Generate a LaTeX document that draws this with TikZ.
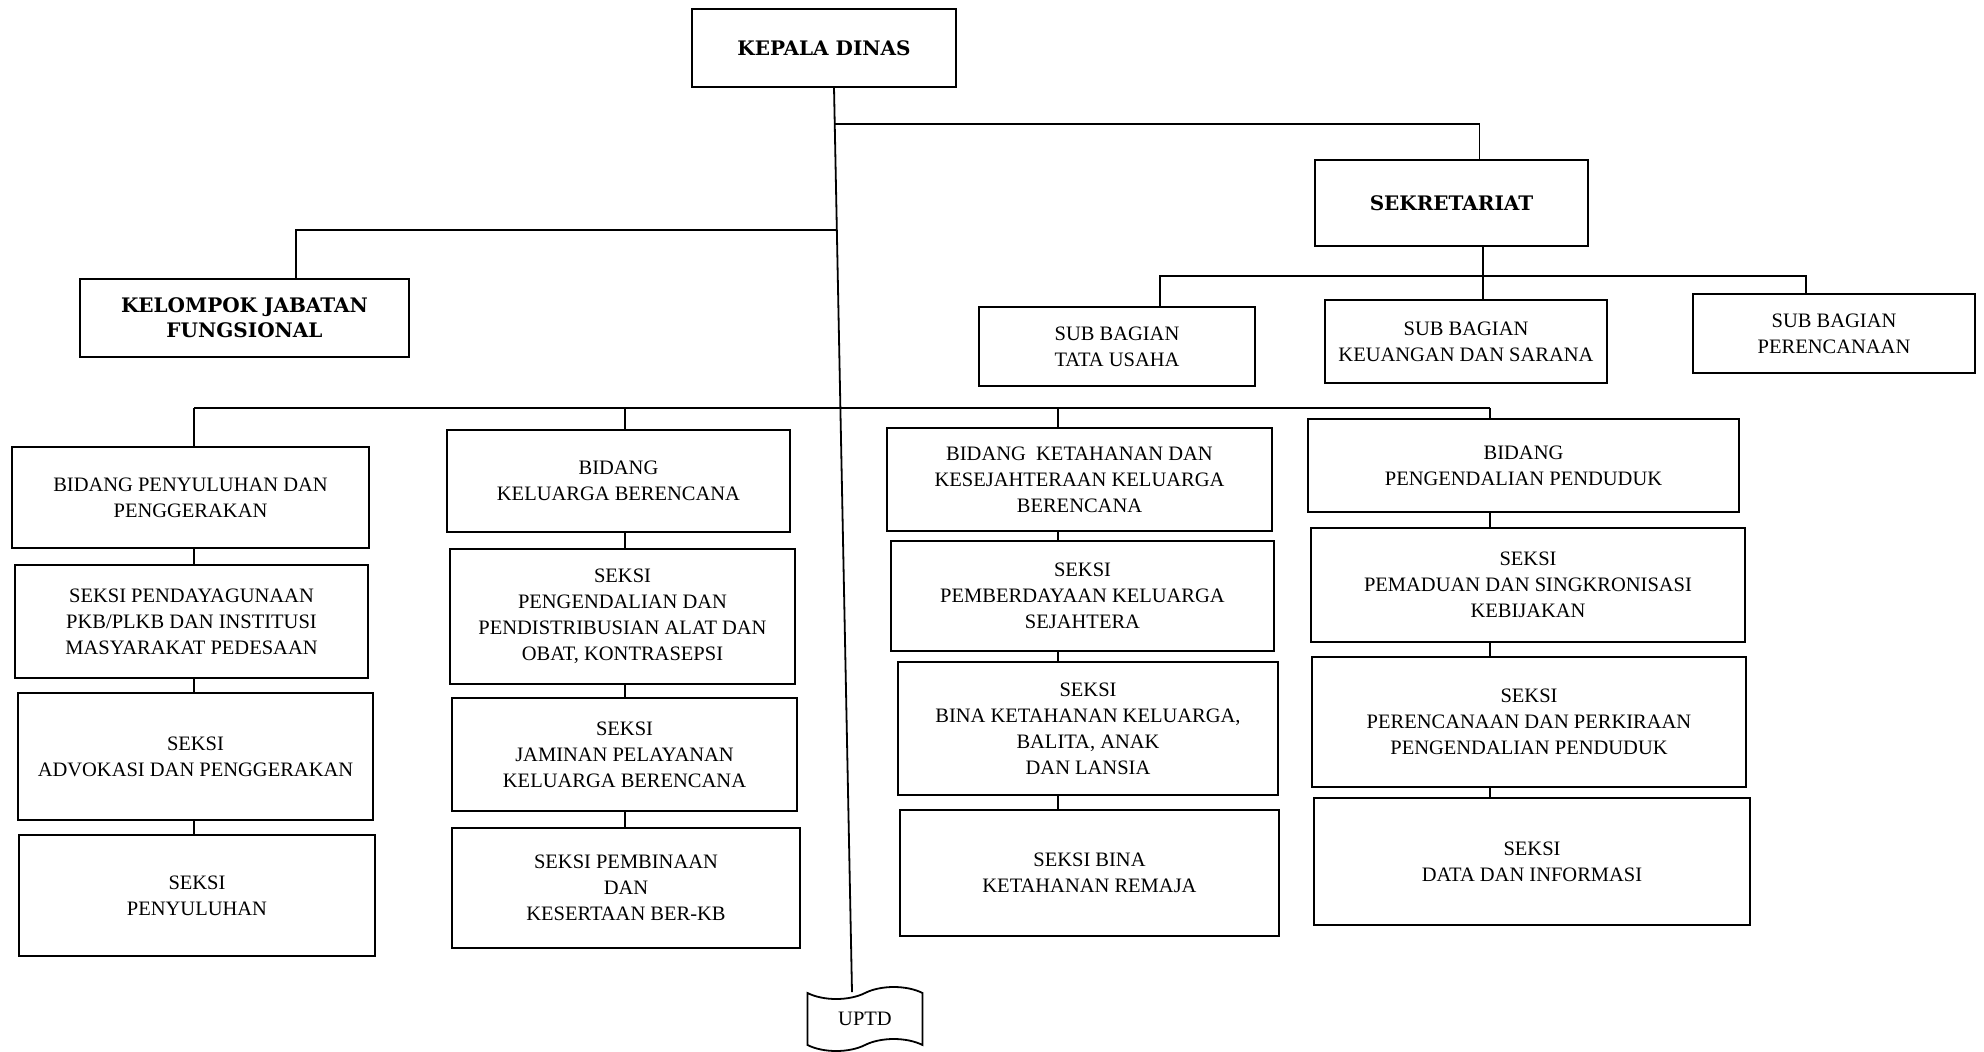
\documentclass[tikz,border=0pt]{standalone}
\usepackage{fontspec}
\setmainfont{Liberation Serif}
\newfontfamily\boldfam{DejaVu Serif}
\usetikzlibrary{shapes.symbols}
\tikzset{
  box/.style={draw, line width=1.8pt, inner sep=2pt, outer sep=0pt, align=center,
    font=\fontsize{20.5}{26}\selectfont},
  bbox/.style={box, font=\boldfam\bfseries\fontsize{20}{25}\selectfont},
  conn/.style={line width=1.8pt},
}
\newcommand{\bx}[7][box]{\node[#1, minimum width={(#4-#2)*1pt}, minimum height={(#5-#3)*1pt}] (#6) at ({(#2+#4)/2},{(#3+#5)/2}) {#7};}
\begin{document}
\begin{tikzpicture}[x=1pt,y=-1pt]
\fill[white] (0,0) rectangle (1984,1052);
\useasboundingbox (0,0) rectangle (1984,1052);

% top level
\bx[bbox]{692}{9}{956}{87}{kepala}{KEPALA DINAS}
\bx[bbox]{1315}{160}{1588}{246}{sek}{SEKRETARIAT}
\bx[bbox]{80}{279}{409}{357}{kel}{KELOMPOK JABATAN\\FUNGSIONAL}

% sub bagian
\bx{979}{307}{1255}{386}{tu}{SUB BAGIAN\\TATA USAHA}
\bx{1325}{300}{1607}{383}{keu}{SUB BAGIAN\\KEUANGAN DAN SARANA}
\bx{1693}{294}{1975}{373}{per}{SUB BAGIAN\\PERENCANAAN}

% column 1
\bx{12}{447}{369}{548}{b1}{BIDANG PENYULUHAN DAN\\PENGGERAKAN}
\bx{15}{565}{368}{678}{s11}{SEKSI PENDAYAGUNAAN\\PKB/PLKB DAN INSTITUSI\\MASYARAKAT PEDESAAN}
\bx{18}{693}{373}{820}{s12}{SEKSI\\ADVOKASI DAN PENGGERAKAN}
\bx{19}{835}{375}{956}{s13}{SEKSI\\PENYULUHAN}

% column 2
\bx{447}{430}{790}{532}{b2}{BIDANG\\KELUARGA BERENCANA}
\bx{450}{549}{795}{684}{s21}{SEKSI\\PENGENDALIAN DAN\\PENDISTRIBUSIAN ALAT DAN\\OBAT, KONTRASEPSI}
\bx{452}{698}{797}{811}{s22}{SEKSI\\JAMINAN PELAYANAN\\KELUARGA BERENCANA}
\bx{452}{828}{800}{948}{s23}{SEKSI PEMBINAAN\\DAN\\KESERTAAN BER-KB}

% column 3
\bx{887}{428}{1272}{531}{b3}{BIDANG\ \ KETAHANAN DAN\\KESEJAHTERAAN KELUARGA\\BERENCANA}
\bx{891}{541}{1274}{651}{s31}{SEKSI\\PEMBERDAYAAN KELUARGA\\SEJAHTERA}
\bx{898}{662}{1278}{795}{s32}{SEKSI\\BINA KETAHANAN KELUARGA,\\BALITA, ANAK\\DAN LANSIA}
\bx{900}{810}{1279}{936}{s33}{SEKSI BINA\\KETAHANAN REMAJA}

% column 4
\bx{1308}{419}{1739}{512}{b4}{BIDANG\\PENGENDALIAN PENDUDUK}
\bx{1311}{528}{1745}{642}{s41}{SEKSI\\PEMADUAN DAN SINGKRONISASI\\KEBIJAKAN}
\bx{1312}{657}{1746}{787}{s42}{SEKSI\\PERENCANAAN DAN PERKIRAAN\\PENGENDALIAN PENDUDUK}
\bx{1314}{798}{1750}{925}{s43}{SEKSI\\DATA DAN INFORMASI}

% UPTD
\node[tape, draw, line width=1.8pt, minimum width=115pt, minimum height=64pt,
  tape bend height=12pt, inner sep=2pt, font=\fontsize{20.5}{26}\selectfont] (uptd) at (865,1019) {UPTD};

% helper coordinates
\coordinate (xtr) at (834,0);
\coordinate (jS) at (835,124);
\coordinate (jK) at (836,230);
\coordinate (xs) at (1483,0);
\coordinate (xtu) at (1160,0);
\coordinate (xpr) at (1806,0);
\coordinate (sb) at (0,276);
\coordinate (bb) at (0,408);
\coordinate (c1) at (194,0);
\coordinate (c2) at (625,0);
\coordinate (c3) at (1058,0);
\coordinate (c4) at (1490,0);

% trunk and branches
\draw[conn] (kepala.south -| xtr) -- ([xshift=-13pt]uptd.north);
\draw[conn] (jS) -| ([xshift=28pt]sek.north);
\draw[conn] (jK) -| ([xshift=51.5pt]kel.north);

% sekretariat to sub bagian
\draw[conn] (sek.south -| xs) -- (keu.north -| xs);
\draw[conn] (tu.north -| xtu) -- (xtu |- sb) -- (xpr |- sb) -- (per.north -| xpr);

% bidang bus
\draw[conn] (c1 |- bb) -- (c4 |- bb);
\draw[conn] (c1 |- bb) -- (b1.north -| c1);
\draw[conn] (c2 |- bb) -- (b2.north -| c2);
\draw[conn] (c3 |- bb) -- (b3.north -| c3);
\draw[conn] (c4 |- bb) -- (b4.north -| c4);

% columns
\draw[conn] (b1.south -| c1) -- (s11.north -| c1);
\draw[conn] (s11.south -| c1) -- (s12.north -| c1);
\draw[conn] (s12.south -| c1) -- (s13.north -| c1);

\draw[conn] (b2.south -| c2) -- (s21.north -| c2);
\draw[conn] (s21.south -| c2) -- (s22.north -| c2);
\draw[conn] (s22.south -| c2) -- (s23.north -| c2);

\draw[conn] (b3.south -| c3) -- (s31.north -| c3);
\draw[conn] (s31.south -| c3) -- (s32.north -| c3);
\draw[conn] (s32.south -| c3) -- (s33.north -| c3);

\draw[conn] (b4.south -| c4) -- (s41.north -| c4);
\draw[conn] (s41.south -| c4) -- (s42.north -| c4);
\draw[conn] (s42.south -| c4) -- (s43.north -| c4);
\end{tikzpicture}
\end{document}
